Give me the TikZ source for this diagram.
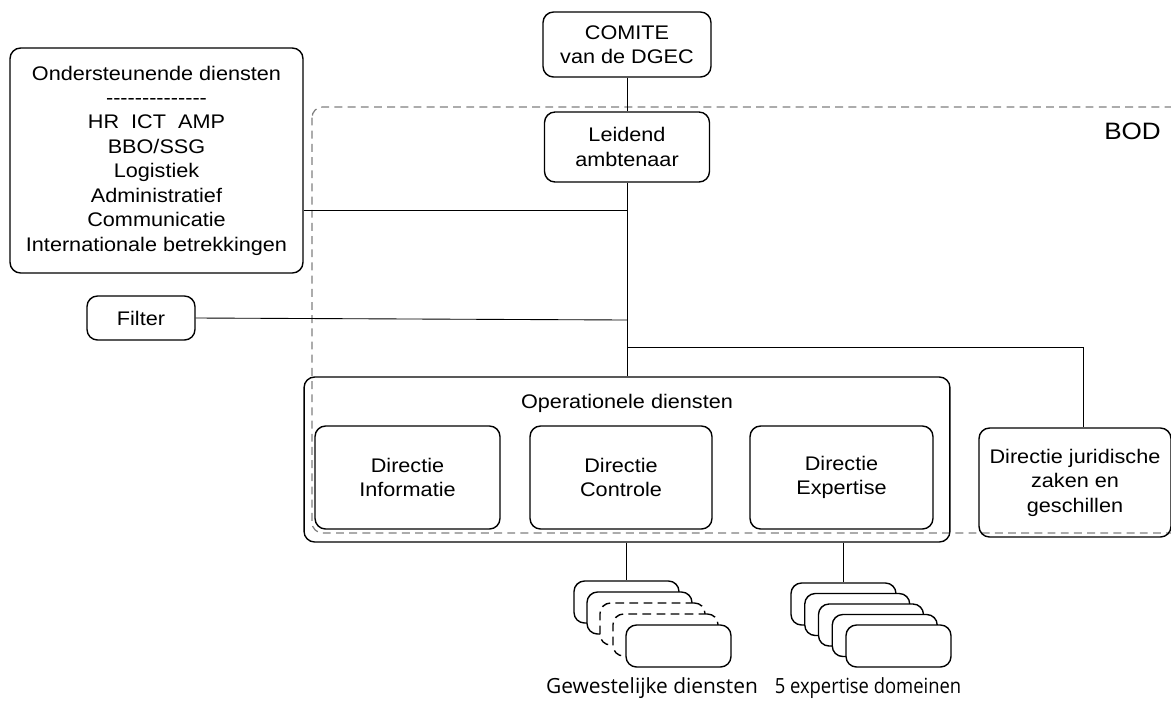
\documentclass[tikz,border=0pt]{standalone}
\usepackage{fontspec}
\setmainfont{Liberation Sans}[FakeStretch=1.1]
\newfontfamily\labelfont{Open Sans}
\newfontfamily\narrowfont{Open Sans}[FakeStretch=0.88]
\usepackage{tikz}
\usetikzlibrary{positioning}
\definecolor{bodgray}{RGB}{128,128,128}

\begin{document}
\begin{tikzpicture}[x=0.02cm,y=-0.02cm,
        box/.style={draw,line width=0.8pt,rounded corners=6pt,align=center,
            font=\fontsize{11.2}{13.9}\selectfont,inner sep=0pt},
        link/.style={line width=0.5pt},
        gdash/.style={dash pattern=on 5pt off 3pt},
        stackbox/.style={draw,fill=white,line width=0.8pt,rounded corners=6pt,
            minimum width=2.1cm,minimum height=0.84cm}]
        \useasboundingbox (0,0) rectangle (1171,708);

        \draw[bodgray,dash pattern=on 4.5pt off 3pt,line width=0.7pt,rounded corners=6pt]
            (312,107) rectangle (1185,533);
        \node[anchor=east,font=\fontsize{13.5}{16}\selectfont] (bod) at (1167,131) {BOD};

        \node[box,minimum width=5.86cm,minimum height=4.5cm] (onder) at (156.5,160.5)
            {Ondersteunende diensten\\ \mbox{-{}-{}-{}-{}-{}-{}-{}-{}-{}-{}-{}-{}-{}-}\\
             HR\ \ ICT\ \ AMP\\ BBO/SSG\\ Logistiek\\ Administratief\\ Communicatie\\
             Internationale betrekkingen};
        \node[box,minimum width=3.36cm,minimum height=1.3cm] (comite) at (627,44.5) {COMITE\\ van de DGEC};
        \node[box,minimum width=3.3cm,minimum height=1.4cm] (leidend) at (627,147) {Leidend\\ ambtenaar};
        \node[box,minimum width=2.16cm,minimum height=0.88cm] (filter) at (141,318) {Filter};

        \node[box,minimum width=12.92cm,minimum height=3.3cm] (ops) at (627,459.5) {};
        \node[font=\fontsize{11.2}{13.9}\selectfont] (opslabel) at (627,403) {Operationele diensten};
        \node[box,minimum width=3.7cm,minimum height=2.06cm] (info) at (407.5,477.5) {Directie\\ Informatie};
        \node[box,minimum width=3.64cm,minimum height=2.06cm] (contr) at (621,477.5) {Directie\\ Controle};
        \node[box,minimum width=3.66cm,minimum height=2.06cm] (exp) at (841.5,477.5) {Directie\\ Expertise};
        \node[box,minimum width=3.84cm,minimum height=2.18cm] (jur) at (1075,482.5)
            {Directie juridische\\ zaken en\\ geschillen};

        \coordinate (j1) at (627,210);
        \coordinate (j2) at (627,320);
        \coordinate (j3) at (627,347);

        \draw[link] (comite.south) -- (leidend.north);
        \draw[link] (leidend.south) -- (ops.north);
        \draw[link] (onder.east |- j1) -- (j1);
        \draw[link] (filter.east) -- (j2);
        \draw[link] (j3) -| ([xshift=0.16cm]jur.north);

        \foreach \i/\s in {0/solid,1/solid,2/gdash,3/gdash,4/solid} {
            \node[stackbox,\s] (g\i) at (626.5+13*\i,602+11*\i) {};
        }
        \foreach \i in {0,...,4} {
            \node[stackbox] (e\i) at (843.5+13.75*\i,604+10.5*\i) {};
        }
        \draw[link] (ops.south -| g0.north) -- (g0.north);
        \draw[link] (ops.south -| e0.north) -- (e0.north);

        \node[font=\labelfont\fontsize{11.9}{14}\selectfont] (glabel) at (652,688) {Gewestelijke diensten};
        \node[font=\narrowfont\fontsize{11.9}{14}\selectfont] (elabel) at (868,688) {5 expertise domeinen};
\end{tikzpicture}
\end{document}
